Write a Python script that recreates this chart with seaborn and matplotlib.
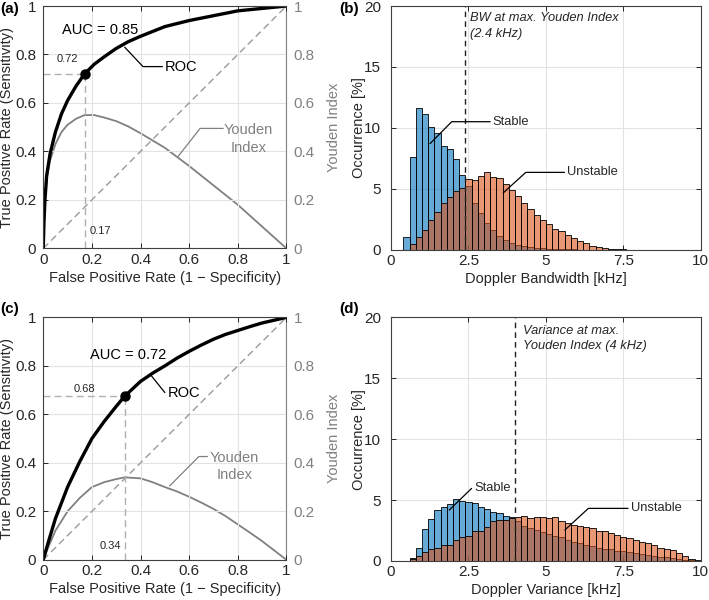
import numpy as np
import pandas as pd
import matplotlib
matplotlib.use("Agg")
import matplotlib.pyplot as plt
from matplotlib.ticker import FuncFormatter
import seaborn as sns

# --- ROC, Doppler bandwidth (a) ---
fpr_bw = [0, 0.003, 0.007, 0.014, 0.028, 0.05, 0.075, 0.1, 0.135, 0.17, 0.21, 0.25,
          0.3, 0.35, 0.4, 0.5, 0.6, 0.7, 0.8, 0.9, 1.0]
tpr_bw = [0, 0.11, 0.2, 0.3, 0.39, 0.48, 0.555, 0.61, 0.67, 0.72, 0.76, 0.79,
          0.825, 0.853, 0.875, 0.915, 0.94, 0.96, 0.98, 0.99, 1.0]
op_bw = (0.17, 0.72)
op_bw_text = ("0.17", "0.72")
auc_bw = "AUC = 0.85"

# --- ROC, Doppler variance (c) ---
fpr_var = [0, 0.02, 0.05, 0.1, 0.15, 0.2, 0.25, 0.3, 0.335, 0.4, 0.45, 0.5, 0.55,
           0.6, 0.65, 0.7, 0.75, 0.8, 0.85, 0.9, 1.0]
tpr_var = [0, 0.07, 0.17, 0.3, 0.405, 0.5, 0.57, 0.633, 0.675, 0.736, 0.77, 0.8,
           0.832, 0.86, 0.886, 0.91, 0.93, 0.946, 0.962, 0.977, 1.0]
op_var = (0.335, 0.675)
op_var_text = ("0.34", "0.68")
auc_var = "AUC = 0.72"

# --- histogram, Doppler bandwidth (b), 0.2 kHz bins from 0.4 kHz ---
edges_bw = np.round(np.arange(0.4, 7.6 + 1e-9, 0.2), 1)
stable_bw = [1.0, 7.6, 11.6, 11.1, 10.05, 9.6, 8.5, 8.3, 7.4, 6.1, 5.2, 3.8, 3.0,
             2.2, 1.6, 1.1, 0.75, 0.55, 0.4, 0.3, 0.22, 0.15, 0.1, 0.07, 0.05,
             0.03, 0.02, 0.01, 0, 0, 0, 0, 0, 0, 0, 0]
unstable_bw = [0, 0.5, 1.0, 1.6, 2.4, 3.1, 3.8, 4.3, 4.8, 5.05, 5.8, 5.7, 6.05,
               6.4, 5.95, 5.9, 5.4, 4.9, 4.4, 3.8, 3.3, 2.8, 2.45, 2.1, 1.7, 1.5,
               1.23, 0.96, 0.74, 0.55, 0.33, 0.22, 0.14, 0.08, 0.05, 0.03]
cut_bw = 2.4

# --- histogram, Doppler variance (d), 0.2 kHz bins from 0.6 kHz ---
edges_var = np.round(np.arange(0.6, 10.0 + 1e-9, 0.2), 1)
stable_var = [0.25, 1.1, 2.65, 3.45, 4.2, 4.4, 4.7, 5.1, 4.9, 4.85, 4.75, 4.45,
              4.25, 4.05, 3.9, 3.7, 3.6, 3.3, 2.9, 2.7, 2.55, 2.4, 2.2, 2.05,
              1.95, 1.75, 1.6, 1.45, 1.35, 1.2, 1.1, 1.0, 0.95, 0.85, 0.78, 0.7,
              0.62, 0.55, 0.5, 0.42, 0.36, 0.3, 0.22, 0.16, 0.1, 0.05, 0.02]
unstable_var = [0.15, 0.45, 0.75, 1.0, 1.1, 1.35, 1.3, 1.75, 1.95, 2.05, 2.5, 2.5,
                2.8, 3.3, 3.35, 3.4, 3.5, 3.6, 3.7, 3.5, 3.6, 3.6, 3.5, 3.6, 3.3,
                3.1, 2.95, 2.85, 2.8, 2.7, 2.5, 2.45, 2.3, 2.1, 2.0, 1.9, 1.75,
                1.6, 1.45, 1.3, 1.1, 1.0, 0.9, 0.63, 0.4, 0.2, 0.05]
cut_var = 4.0

BLUE = (0.0, 0.447, 0.741)
ORANGE = (0.85, 0.325, 0.098)
GRAY = "#808080"
DARK = "#262626"

sns.set_theme(style="whitegrid")
plt.rcParams["font.family"] = ["Liberation Sans", "DejaVu Sans"]
plt.rcParams["axes.edgecolor"] = "#404040"
plt.rcParams["axes.linewidth"] = 0.8
plt.rcParams["grid.color"] = "#e3e3e3"
plt.rcParams["grid.linewidth"] = 0.8
plt.rcParams["xtick.direction"] = "in"
plt.rcParams["ytick.direction"] = "in"

fmt = FuncFormatter(lambda v, _: f"{v:g}")


def style_axes(ax):
    ax.tick_params(axis="both", which="both", labelsize=11, colors=DARK, length=3.5,
                   width=0.7, bottom=True, left=True, top=True, right=True,
                   labeltop=False, labelright=False)
    ax.tick_params(axis="x", pad=3)
    ax.tick_params(axis="y", pad=5)
    ax.xaxis.set_major_formatter(fmt)
    ax.yaxis.set_major_formatter(fmt)
    for s in ax.spines.values():
        s.set_color("#404040")
        s.set_linewidth(0.8)


def roc_panel(ax, fpr, tpr, op, op_text, auc, auc_xy, op_pos, roc_lead, you_lead, you_xy):
    fpr = np.array(fpr)
    tpr = np.array(tpr)
    ax.plot([0, 1], [0, 1], ls=(0, (5, 3)), color="#9a9a9a", lw=1.0)
    ax.plot([0, op[0]], [op[1], op[1]], ls=(0, (5, 3)), color="#b0b0b0", lw=1.0)
    ax.plot([op[0], op[0]], [0, op[1]], ls=(0, (5, 3)), color="#b0b0b0", lw=1.0)
    sns.lineplot(x=fpr, y=tpr, color="black", lw=2.4, estimator=None, sort=False, ax=ax)
    ax.plot(op[0], op[1], "o", color="black", ms=6.5)

    ax2 = ax.twinx()
    sns.lineplot(x=fpr, y=tpr - fpr, color=GRAY, lw=1.3, estimator=None, sort=False, ax=ax2)
    ax2.set_ylim(0, 1)
    ax2.set_yticks(np.arange(0, 1.01, 0.2))
    ax2.yaxis.set_major_formatter(fmt)
    ax2.tick_params(axis="y", labelsize=11, colors=GRAY, length=3.5, width=0.7,
                    direction="in", right=True, pad=5)
    ax2.set_ylabel("Youden Index", color=GRAY, fontsize=10.5, labelpad=9)
    ax2.grid(False)
    for s in ax2.spines.values():
        s.set_visible(False)
    ax2.spines["right"].set_visible(True)
    ax2.spines["right"].set_color(GRAY)
    ax2.spines["right"].set_linewidth(0.8)

    ax.set_xlim(0, 1)
    ax.set_ylim(0, 1)
    ax.set_xticks(np.arange(0, 1.01, 0.2))
    ax.set_yticks(np.arange(0, 1.01, 0.2))
    style_axes(ax)
    ax.tick_params(axis="y", right=False)
    ax.spines["right"].set_visible(False)
    ax.set_xlabel("False Positive Rate (1 \u2212 Specificity)", fontsize=10.5, color=DARK,
                  labelpad=3)
    ax.set_ylabel("True Positive Rate (Sensitivity)", fontsize=10.5, color=DARK, labelpad=1)

    ax.text(auc_xy[0], auc_xy[1], auc, fontsize=10.5, ha="center", va="center", color="black")
    (tx, ty, tha), (vx, vy, vha) = op_pos
    ax.text(tx, ty, op_text[1], fontsize=8, ha=tha, va="center", color=DARK)
    ax.text(vx, vy, op_text[0], fontsize=8, ha=vha, va="center", color=DARK)

    xs, ys = roc_lead
    ax.plot(xs, ys, color="black", lw=0.9)
    ax.text(xs[-1] + 0.01, ys[-1], "ROC", fontsize=10.5, ha="left", va="center", color="black")
    xs, ys = you_lead
    ax.plot(xs, ys, color=GRAY, lw=0.9)
    ax.text(you_xy[0], you_xy[1], "Youden\nIndex", fontsize=10.5, ha="center", va="center",
            color=GRAY, linespacing=1.35)
    ax.set_zorder(ax2.get_zorder() + 1)
    ax.patch.set_visible(False)


def hist_panel(ax, edges, stable, unstable, cut, xlabel, note, note_xy, st_lead, un_lead):
    df = pd.DataFrame({"kHz": (edges[:-1] + edges[1:]) / 2,
                       "stable": stable, "unstable": unstable})
    bins = list(edges)
    sns.histplot(data=df, x="kHz", weights="stable", bins=bins, color=BLUE, alpha=0.6,
                 edgecolor="black", linewidth=0.6, ax=ax)
    sns.histplot(data=df, x="kHz", weights="unstable", bins=bins, color=ORANGE, alpha=0.6,
                 edgecolor="black", linewidth=0.6, ax=ax)
    ax.axvline(cut, color="#202020", ls=(0, (4, 3)), lw=1.0)
    ax.set_xlim(0, 10)
    ax.set_ylim(0, 20)
    ax.set_xticks([0, 2.5, 5, 7.5, 10])
    ax.set_yticks([0, 5, 10, 15, 20])
    style_axes(ax)
    ax.tick_params(axis="y", pad=7)
    ax.set_xlabel(xlabel, fontsize=10.5, color=DARK, labelpad=3)
    ax.set_ylabel("Occurrence [%]", fontsize=10.5, color=DARK, labelpad=-1)
    ax.text(note_xy[0], note_xy[1], note, fontsize=9.3, style="italic", ha="left", va="top",
            color=DARK, linespacing=1.4)
    xs, ys = st_lead
    ax.plot(xs, ys, color="black", lw=0.9)
    ax.text(xs[-1] + 0.08, ys[-1], "Stable", fontsize=9.3, ha="left", va="center", color=DARK)
    xs, ys = un_lead
    ax.plot(xs, ys, color="black", lw=0.9)
    ax.text(xs[-1] + 0.08, ys[-1], "Unstable", fontsize=9.3, ha="left", va="center", color=DARK)


fig = plt.figure(figsize=(7.09, 6.0), dpi=100)
ax_a = fig.add_axes([0.061, 0.586, 0.343, 0.404])
ax_b = fig.add_axes([0.5515, 0.584, 0.437, 0.406])
ax_c = fig.add_axes([0.061, 0.067, 0.343, 0.404])
ax_d = fig.add_axes([0.5515, 0.065, 0.437, 0.406])

roc_panel(ax_a, fpr_bw, tpr_bw, op_bw, op_bw_text, auc_bw, (0.235, 0.90),
          ((0.1, 0.78, "center"), (0.19, 0.07, "left")),
          ([0.335, 0.41, 0.49], [0.83, 0.75, 0.75]),
          ([0.555, 0.645, 0.74], [0.38, 0.495, 0.495]), (0.845, 0.45))
roc_panel(ax_c, fpr_var, tpr_var, op_var, op_var_text, auc_var, (0.35, 0.846),
          ((0.17, 0.705, "center"), (0.32, 0.055, "right")),
          ([0.44, 0.5], [0.765, 0.69]),
          ([0.52, 0.64, 0.675], [0.305, 0.426, 0.426]), (0.785, 0.385))

hist_panel(ax_b, edges_bw, stable_bw, unstable_bw, cut_bw, "Doppler Bandwidth [kHz]",
           "BW at max. Youden Index\n(2.4 kHz)", (2.55, 19.5),
           ([1.26, 1.96, 3.2], [8.7, 10.5, 10.5]),
           ([3.62, 4.35, 5.6], [4.65, 6.34, 6.34]))
hist_panel(ax_d, edges_var, stable_var, unstable_var, cut_var, "Doppler Variance [kHz]",
           "Variance at max.\nYouden Index (4 kHz)", (4.25, 19.4),
           ([1.88, 2.6], [4.18, 5.96]),
           ([5.61, 6.37, 7.65], [2.54, 4.32, 4.32]))

for lbl, x, y in [("(a)", 0.0, 0.997), ("(b)", 0.478, 0.997),
                  ("(c)", 0.0, 0.497), ("(d)", 0.478, 0.497)]:
    fig.text(x, y, lbl, fontsize=11, fontweight="bold", ha="left", va="top", color="black")

fig.savefig("out.png", dpi=100, facecolor="white")
